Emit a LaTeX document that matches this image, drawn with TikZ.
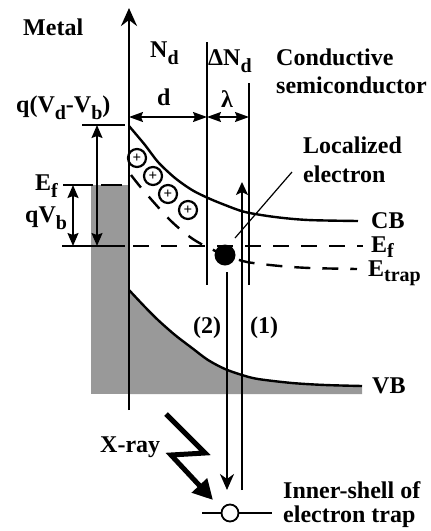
\documentclass[tikz,border=0pt]{standalone}
\usepackage{fontspec}
\setmainfont{Liberation Serif}
\usetikzlibrary{arrows.meta}
\definecolor{fillgray}{gray}{0.6}
\newcommand\sbs[1]{\raisebox{-7pt}{\fontsize{20}{20}\selectfont #1}}
\newcommand\sbsb[1]{\raisebox{-5pt}{\fontsize{20}{20}\selectfont #1}}
\begin{document}
\begin{tikzpicture}[x=1pt,y=-1pt,
  lab/.style={font=\bfseries\fontsize{24}{28}\selectfont, inner sep=0pt, anchor=base west},
  thinln/.style={line width=1.5pt},
  dimarr/.style={line width=1.5pt, {Stealth[length=14pt,width=10pt,inset=2pt]}-{Stealth[length=14pt,width=10pt,inset=2pt]}},
  levarr/.style={line width=1.5pt, {Stealth[length=13pt,width=11pt,inset=2pt]}-{Stealth[length=13pt,width=11pt,inset=2pt]}},
  band/.style={line width=2.4pt},
  dsh/.style={line width=2.4pt, dash pattern=on 16pt off 12pt},
  plus/.style={circle, draw, line width=2.2pt, minimum size=18pt, inner sep=0pt, font=\bfseries\fontsize{15}{15}\selectfont}]
\useasboundingbox (0,0) rectangle (431,531);

% gray regions
\fill[fillgray] (91,185) rectangle (129,394);
\fill[fillgray] (129,394) -- plot[smooth] coordinates {(129,290) (145,307) (158,320) (175,335) (192,348) (208,360) (225,369) (242,375) (258,379) (292,383) (325,385) (362,386)} -- (362,394) -- cycle;

% VB curve
\draw[band] plot[smooth] coordinates {(129,290) (145,307) (158,320) (175,335) (192,348) (208,360) (225,369) (242,375) (258,379) (292,383) (325,385) (362,386)};
% CB curve
\draw[band] plot[smooth] coordinates {(129,126) (145,145) (158,162) (175,178) (192,190) (208,198) (225,205) (245,212) (275,217) (308,220) (358,221)};
% E_trap curve
\draw[dsh] plot[smooth] coordinates {(131,175) (143,190) (170,220) (190,237) (205,246) (225,255) (247,262) (280,266) (310,268) (357,269)};
% Fermi level in semiconductor
\draw[dsh] (133,246) -- (363,246);
\draw[thinln] (62,246) -- (125,246);
% metal Fermi level
\draw[thinln] (63,185) -- (93,185);
\draw[thinln] (101,185) -- (122,185);
\draw[thinln] (82,125) -- (125,125);

% level arrows
\coordinate (qa) at (97,125); \coordinate (qb) at (97,246);
\draw[levarr] (qa) -- (qb);
\coordinate (va) at (73,185); \coordinate (vb) at (73,246);
\draw[levarr] (va) -- (vb);

% main axis
\coordinate (axb) at (129,410); \coordinate (axt) at (129,8);
\draw[line width=2.8pt, -{Stealth[length=18pt,width=16pt,inset=6pt]}] (axb) -- (axt);

% vertical region lines
\draw[thinln] (207,42) -- (207,285);
\draw[thinln] (249,83) -- (249,285);
\coordinate (d1) at (129,117); \coordinate (d2) at (207,117); \coordinate (d3) at (249,117);
\draw[dimarr] (d1) -- (d2);
\draw[dimarr] (d2) -- (d3);

% plus circles
\node[plus] (p1) at (137,158) {+};
\node[plus] (p2) at (153,176) {+};
\node[plus] (p3) at (168,194) {+};
\node[plus] (p4) at (188,210) {+};

% transitions
\coordinate (t2a) at (227,272); \coordinate (t2b) at (227,490);
\draw[line width=2pt, -{Stealth[length=16pt,width=14pt,inset=5pt]}] (t2a) -- (t2b);
\coordinate (t1a) at (242,490); \coordinate (t1b) at (242,182);
\draw[line width=2pt, -{Stealth[length=13pt,width=12pt,inset=3pt]}] (t1a) -- (t1b);

% localized electron
\fill (225,255) circle[radius=10.5];
\coordinate (le) at (292,172);
\draw[line width=1.2pt] (le) -- (235,238);

% inner shell
\draw[line width=1.8pt] (202,513) -- (272,513);
\draw[line width=1.8pt, fill=white] (230,513) circle[radius=8.5];

% X-ray bolt
\draw[line width=5pt, miter limit=20, -{Triangle[length=20pt,width=20pt]}] (166,414) -- (205,453) -- (171,455) -- (213,500);

% labels
\node[lab] (metal) at (23,35) {Metal};
\node[lab] (nd) at (150,57) {N\sbs{d}};
\node[lab] (dnd) at (208,65) {ΔN\sbs{d}};
\node[lab] (cond) at (276,65) {Conductive};
\node[lab] (semi) at (276,93) {semiconductor};
\node[lab] (dl) at (157,105) {d};
\node[lab] (lam) at (221,107) {λ};
\node[lab] (qvdvb) at (16,112) {q(V\sbs{d}-V\sbs{b})};
\node[lab] (efm) at (35,190) {E\sbs{f}};
\node[lab] (qvb) at (25,222) {qV\sbs{b}};
\node[lab] (loc) at (303,153) {Localized};
\node[lab] (elec) at (303,182) {electron};
\node[lab] (cb) at (371,228) {CB};
\node[lab] (efs) at (371,252) {E\sbsb{f}};
\node[lab] (etr) at (368,276) {E\sbsb{trap}};
\node[lab] (vbl) at (372,393) {VB};
\node[lab] (l2) at (193,333) {(2)};
\node[lab] (l1) at (250,333) {(1)};
\node[lab] (xr) at (100,452) {X-ray};
\node[lab] (inn) at (283,498) {Inner-shell of};
\node[lab] (etrap) at (283,522) {electron trap};
\end{tikzpicture}
\end{document}
